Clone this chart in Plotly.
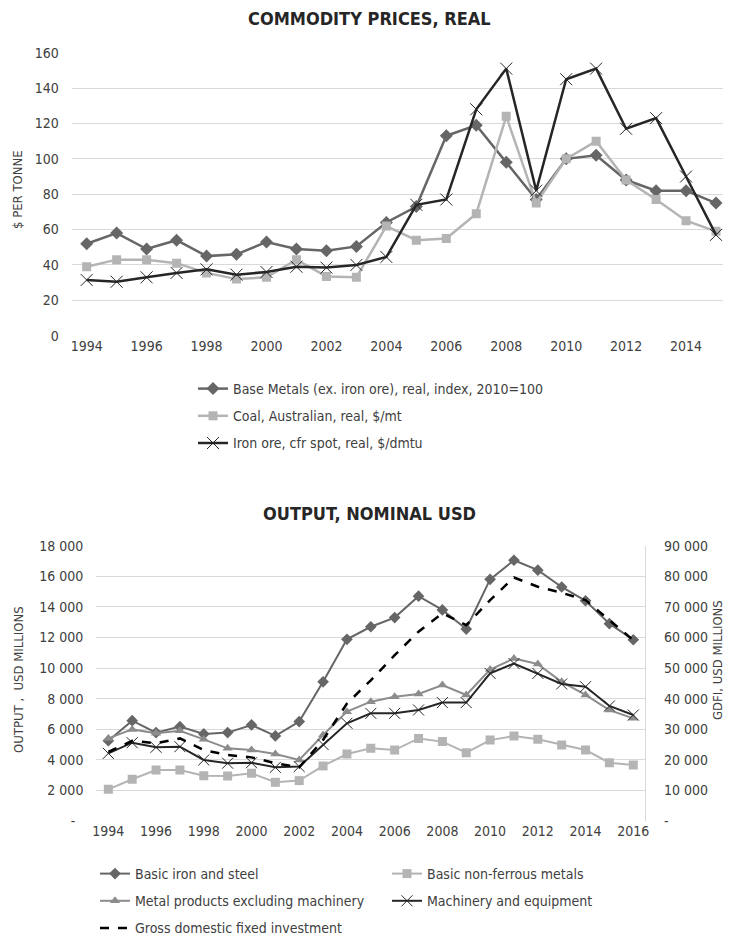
import plotly.graph_objects as go

FONT = "DejaVu Sans Condensed, Liberation Sans Narrow, Liberation Sans, sans-serif"

# top chart: commodity prices, real
years_top = list(range(1994, 2016))
base_metals = [52, 58, 49, 54, 45, 46, 53, 49, 48, 50.5, 64, 73, 113, 119, 98, 77,
               100, 102, 88, 82, 82, 75]
coal = [39, 43, 43, 41, 35.5, 32, 33, 43, 33.5, 33, 62, 54, 55, 69, 124, 75,
        100, 110, 88, 77, 65, 59]
iron_ore = [31.5, 30.5, 33, 35.5, 37.5, 34.5, 36, 39, 38.5, 40, 44.5, 74, 77, 128, 151, 82,
            145, 151, 117, 123, 90, 57]

# bottom chart: output, nominal USD
years_bot = list(range(1994, 2017))
iron_steel = [5250, 6560, 5780, 6170, 5690, 5780, 6280, 5560, 6500, 9100, 11880, 12700,
              13300, 14700, 13800, 12550, 15800, 17050, 16400, 15300, 14400, 12900, 11850]
non_ferrous = [2070, 2730, 3330, 3330, 2960, 2940, 3120, 2530, 2640, 3600, 4380, 4750,
               4640, 5400, 5190, 4470, 5290, 5560, 5340, 4970, 4640, 3810, 3660]
metal_products = [5400, 5990, 5730, 5900, 5340, 4750, 4640, 4380, 3990, 5620, 7150, 7800,
                  8120, 8300, 8890, 8240, 9900, 10630, 10260, 9100, 8240, 7250, 6710]
machinery = [4420, 5120, 4820, 4860, 3990, 3780, 3810, 3510, 3560, 5000, 6390, 7040,
             7040, 7260, 7740, 7740, 9650, 10300, 9650, 8960, 8780, 7520, 6930]
gdfi = [22600, 26200, 25400, 27000, 23200, 21600, 20800, 18900, 17500, 26500, 38400, 46000,
        54200, 61900, 67900, 64000, 72200, 79600, 76600, 74600, 72200, 65700, 59100]

NB = "\u00a0"
left_ticks = list(range(0, 18001, 2000))
left_text = ["-" + NB * 2] + [f"{v:,}".replace(",", " ") for v in left_ticks[1:]]
right_ticks = list(range(0, 90001, 10000))
right_text = ["-"] + [f"{v:,}".replace(",", " ") for v in right_ticks[1:]]

DARK = "#666666"
LIGHT = "#b4b4b4"
MID = "#8c8c8c"
BLACK = "#262626"

# the page body adds an 8px margin, so the figure is a bit smaller than the window
W, H, OFF = 723, 928, 8


def px(x):
    return (x - OFF) / W


def py(y):
    return 1 - (y - OFF) / H


fig = go.Figure()

fig.add_trace(go.Scatter(
    x=years_top, y=base_metals, name="Base Metals (ex. iron ore), real, index, 2010=100",
    mode="lines+markers", line=dict(color=DARK, width=2.5),
    marker=dict(symbol="diamond", size=10, color=DARK),
    xaxis="x", yaxis="y", legend="legend", legendgroup="a"))
fig.add_trace(go.Scatter(
    x=years_top, y=coal, name="Coal, Australian, real, $/mt",
    mode="lines+markers", line=dict(color=LIGHT, width=2.5),
    marker=dict(symbol="square", size=9, color=LIGHT),
    xaxis="x", yaxis="y", legend="legend", legendgroup="b"))
fig.add_trace(go.Scatter(
    x=years_top, y=iron_ore, name="Iron ore, cfr spot, real, $/dmtu",
    mode="lines+markers", line=dict(color=BLACK, width=2.5),
    marker=dict(symbol="x-thin-open", size=12, color=BLACK, line=dict(width=1, color=BLACK)),
    xaxis="x", yaxis="y", legend="legend", legendgroup="c"))

fig.add_trace(go.Scatter(
    x=years_bot, y=iron_steel, name="Basic iron and steel",
    mode="lines+markers", line=dict(color=DARK, width=2),
    marker=dict(symbol="diamond", size=9, color=DARK),
    xaxis="x2", yaxis="y2", legend="legend2", legendgroup="d"))
fig.add_trace(go.Scatter(
    x=years_bot, y=non_ferrous, name="Basic non-ferrous metals",
    mode="lines+markers", line=dict(color=LIGHT, width=2),
    marker=dict(symbol="square", size=9, color=LIGHT),
    xaxis="x2", yaxis="y2", legend="legend3", legendgroup="e"))
fig.add_trace(go.Scatter(
    x=years_bot, y=metal_products, name="Metal products excluding machinery",
    mode="lines+markers", line=dict(color=MID, width=2),
    marker=dict(symbol="triangle-up", size=9, color=MID),
    xaxis="x2", yaxis="y2", legend="legend2", legendgroup="f"))
fig.add_trace(go.Scatter(
    x=years_bot, y=machinery, name="Machinery and equipment",
    mode="lines+markers", line=dict(color=BLACK, width=2),
    marker=dict(symbol="x-thin-open", size=11, color=BLACK, line=dict(width=1, color=BLACK)),
    xaxis="x2", yaxis="y2", legend="legend3", legendgroup="g"))
fig.add_trace(go.Scatter(
    x=years_bot, y=gdfi, name="Gross domestic fixed investment",
    mode="lines", line=dict(color="#000000", width=2.5, dash="dash"),
    xaxis="x2", yaxis="y3", legend="legend2", legendgroup="h"))

tick_font = dict(family=FONT, size=14, color="#404040")
grid = "#d9d9d9"
leg_font = dict(family=FONT, size=14, color="#404040")

fig.update_layout(
    width=W, height=H,
    margin=dict(l=0, r=0, t=0, b=0, autoexpand=False),
    paper_bgcolor="white", plot_bgcolor="white",
    font=dict(family=FONT, size=14, color="#404040"),
    xaxis=dict(domain=[px(71.7), 1.0], range=[1993.5, 2015.5],
               tickvals=list(range(1994, 2015, 2)), showgrid=False, zeroline=False,
               showline=False, ticks="", tickfont=tick_font, anchor="y", automargin=False),
    yaxis=dict(domain=[py(335.7), py(52.7)], range=[0, 160], dtick=20,
               showgrid=True, gridcolor=grid, gridwidth=1, zeroline=False, showline=False,
               tickfont=tick_font, anchor="x", automargin=False, ticklabelstandoff=12),
    xaxis2=dict(domain=[px(96.4), px(645.2)], range=[1993.5, 2016.5],
                tickvals=list(range(1994, 2017, 2)), showgrid=False, zeroline=False,
                showline=False, ticks="", tickfont=tick_font, anchor="y2", automargin=False),
    yaxis2=dict(domain=[py(821), py(545.7)], range=[0, 18000],
                tickvals=left_ticks, ticktext=left_text, showgrid=True, gridcolor=grid,
                zeroline=False, showline=False, tickfont=tick_font, anchor="x2",
                automargin=False, ticklabelstandoff=12),
    yaxis3=dict(overlaying="y2", side="right", range=[0, 90000], tickvals=right_ticks,
                ticktext=right_text, showgrid=False, zeroline=False, showline=True,
                linecolor=grid, tickfont=tick_font, anchor="x2", automargin=False,
                ticklabelstandoff=15),
    legend=dict(x=px(193), y=py(373), xanchor="left", yanchor="top",
                orientation="v", tracegroupgap=6, font=leg_font, bgcolor="rgba(0,0,0,0)"),
    legend2=dict(x=px(95), y=py(858), xanchor="left", yanchor="top",
                 orientation="v", tracegroupgap=6, font=leg_font, bgcolor="rgba(0,0,0,0)"),
    legend3=dict(x=px(387), y=py(858), xanchor="left", yanchor="top",
                 orientation="v", tracegroupgap=6, font=leg_font, bgcolor="rgba(0,0,0,0)"),
)

title_font = dict(family=FONT, size=18, color="#262626")
side_font = dict(family=FONT, size=13, color="#404040")

fig.add_annotation(text="<b>COMMODITY PRICES, REAL</b>", xref="paper", yref="paper",
                   x=px(369), y=py(18), xanchor="center", yanchor="middle",
                   showarrow=False, font=title_font)
fig.add_annotation(text="<b>OUTPUT, NOMINAL USD</b>", xref="paper", yref="paper",
                   x=px(369), y=py(513), xanchor="center", yanchor="middle",
                   showarrow=False, font=title_font)
fig.add_annotation(text="$ PER TONNE", xref="paper", yref="paper", x=px(18),
                   y=py(190), xanchor="center", yanchor="middle", textangle=-90,
                   showarrow=False, font=side_font)
fig.add_annotation(text="OUTPUT ,  USD MILLIONS", xref="paper", yref="paper", x=px(18),
                   y=py(680), xanchor="center", yanchor="middle", textangle=-90,
                   showarrow=False, font=side_font)
fig.add_annotation(text="GDFI, USD MILLIONS", xref="paper", yref="paper", x=px(717),
                   y=py(660), xanchor="center", yanchor="middle", textangle=-90,
                   showarrow=False, font=side_font)

fig.write_html("out.html")
